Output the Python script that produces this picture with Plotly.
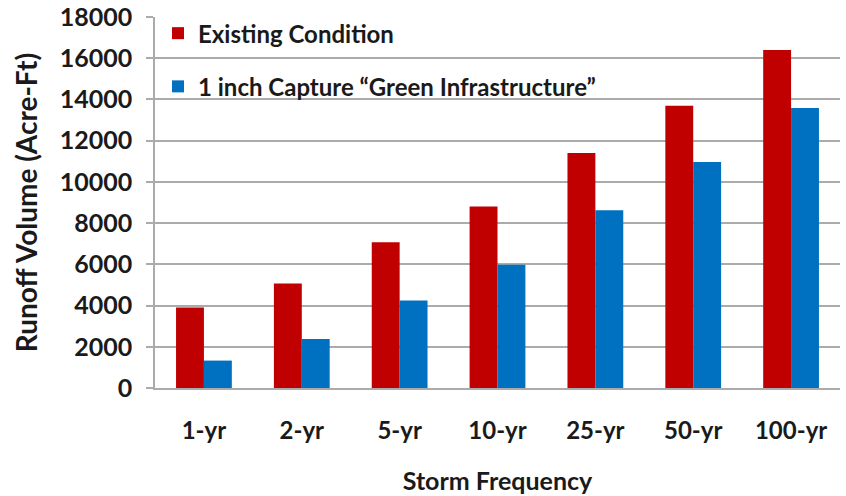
import plotly.graph_objects as go

# Storm return periods and runoff volumes (acre-ft)
storm_frequency = ["1-yr", "2-yr", "5-yr", "10-yr", "25-yr", "50-yr", "100-yr"]
existing_condition = [3900, 5070, 7070, 8800, 11400, 13700, 16400]
green_infrastructure = [1330, 2380, 4250, 5980, 8620, 10970, 13580]

series_names = ["Existing Condition", "1 inch Capture \u201cGreen Infrastructure\u201d"]
series_colors = ["#C00000", "#0070C0"]

y_ticks = [0, 2000, 4000, 6000, 8000, 10000, 12000, 14000, 16000, 18000]
y_tick_labels = [str(v) for v in y_ticks]

FONT = "Lato"
TEXT_COLOR = "#1a1a1a"
GRID_COLOR = "#ababab"

fig = go.Figure()
for name, values, color, group in zip(
    series_names, [existing_condition, green_infrastructure], series_colors, ["a", "b"]
):
    fig.add_trace(
        go.Bar(
            x=storm_frequency,
            y=values,
            name=name,
            legendgroup=group,
            marker=dict(color=color, line=dict(width=0)),
        )
    )

fig.update_layout(
    width=846,
    height=496,
    margin=dict(l=155, r=6, t=17, b=108, autoexpand=False),
    paper_bgcolor="white",
    plot_bgcolor="white",
    barmode="group",
    bargap=0.43,
    bargroupgap=0,
    font=dict(family=FONT, color=TEXT_COLOR, weight="bold"),
    legend=dict(
        x=0.0044,
        y=1.016,
        xanchor="left",
        yanchor="top",
        bgcolor="rgba(0,0,0,0)",
        font=dict(family=FONT, size=24, color=TEXT_COLOR, weight="bold"),
        traceorder="grouped",
        tracegroupgap=19,
        itemclick=False,
    ),
    showlegend=True,
)

fig.update_xaxes(
    type="category",
    automargin=False,
    showgrid=False,
    showline=True,
    linecolor=GRID_COLOR,
    linewidth=1.5,
    ticks="",
    tickfont=dict(family=FONT, size=24, color=TEXT_COLOR, weight="bold"),
    ticklabelstandoff=20,
    title=dict(
        text="Storm Frequency",
        font=dict(family=FONT, size=25, color=TEXT_COLOR, weight="bold"),
        standoff=30,
    ),
)

fig.update_yaxes(
    range=[0, 18000],
    automargin=False,
    tickvals=y_ticks,
    ticktext=y_tick_labels,
    showgrid=True,
    gridcolor=GRID_COLOR,
    gridwidth=1.5,
    zeroline=False,
    showline=True,
    linecolor=GRID_COLOR,
    linewidth=1.5,
    ticks="outside",
    ticklen=7,
    tickcolor=GRID_COLOR,
    tickwidth=1.5,
    tickfont=dict(family=FONT, size=25, color=TEXT_COLOR, weight="bold"),
    ticklabelstandoff=9,
    title=dict(
        text="Runoff Volume (Acre-Ft)",
        font=dict(family=FONT, size=28, color=TEXT_COLOR, weight="bold"),
        standoff=14,
    ),
)

fig.write_html("out.html")
